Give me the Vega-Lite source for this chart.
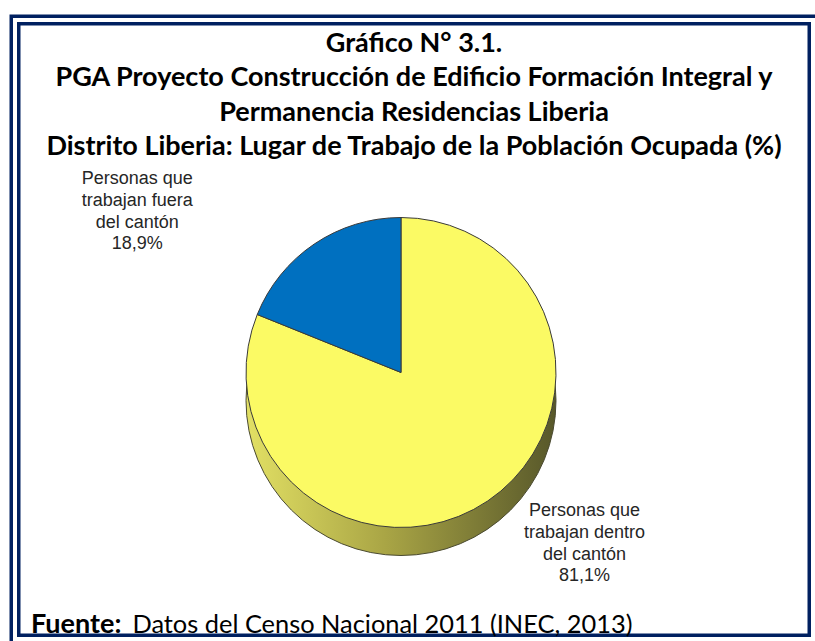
{
  "$schema": "https://vega.github.io/schema/vega-lite/v6.json",
  "width": 815,
  "height": 641,
  "autosize": {"type": "fit", "contains": "padding"},
  "padding": {"left": 13, "top": 18, "right": 0, "bottom": 0},
  "background": "white",
  "view": {"stroke": "#002060", "strokeWidth": 11, "fill": "white"},
  "config": {"view": {"stroke": "#002060", "strokeWidth": 11}},
  "title": {
    "text": ["Gráfico N° 3.1.", "PGA Proyecto Construcción de Edificio Formación Integral y", "Permanencia Residencias Liberia", "Distrito Liberia: Lugar de Trabajo de la Población Ocupada (%)"],
    "font": "Lato",
    "fontWeight": "bold",
    "fontSize": 27,
    "lineHeight": 34.3,
    "color": "black",
    "anchor": "middle",
    "frame": "group",
    "offset": -143
  },
  "datasets": {
    "pie": [
      {"lugar": "Personas que trabajan dentro del cantón", "etiqueta": "Personas que\ntrabajan dentro\ndel cantón\n81,1%", "pct": 81.1, "orden": 1},
      {"lugar": "Personas que trabajan fuera del cantón", "etiqueta": "Personas que\ntrabajan fuera\ndel cantón\n18,9%", "pct": 18.9, "orden": 2}
    ],
    "marco": [{}],
    "fuente": [{"fuente": "Datos del Censo Nacional 2011 (INEC, 2013)"}]
  },
  "layer": [
    {
      "data": {"name": "marco"},
      "mark": {"type": "rect", "fill": null, "stroke": "white", "strokeWidth": 4},
      "encoding": {}
    },
    {
      "data": {"name": "marco"},
      "mark": {
        "type": "arc",
        "outerRadius": 155,
        "xOffset": -13,
        "yOffset": 71,
        "stroke": "#4a4a30",
        "strokeWidth": 1,
        "fill": {"gradient": "linear", "x1": 0, "y1": 0, "x2": 1, "y2": 0,
          "stops": [{"offset": 0, "color": "#E2E064"}, {"offset": 0.45, "color": "#A9A545"}, {"offset": 1, "color": "#57572A"}]}
      },
      "encoding": {}
    },
    {
      "data": {"name": "pie"},
      "mark": {"type": "arc", "outerRadius": 155, "xOffset": -13, "yOffset": 43, "stroke": "#3a3a3a", "strokeWidth": 1},
      "encoding": {
        "theta": {"field": "pct", "type": "quantitative", "stack": true},
        "order": {"field": "orden", "type": "quantitative"},
        "color": {"field": "lugar", "type": "nominal",
          "scale": {"domain": ["Personas que trabajan dentro del cantón", "Personas que trabajan fuera del cantón"], "range": ["#FBFA64", "#0070C0"]},
          "legend": null}
      }
    },
    {
      "data": {"name": "pie"},
      "mark": {"type": "text", "font": "Liberation Sans", "fontSize": 18, "lineHeight": 21.7, "lineBreak": "\n", "color": "#262626", "align": "center", "baseline": "middle", "xOffset": -13, "yOffset": 43},
      "encoding": {
        "theta": {"field": "pct", "type": "quantitative", "stack": true, "scale": {"domain": [0, 100], "range": [-0.318, 5.936]}},
        "radius": {"field": "pct", "type": "quantitative", "scale": {"type": "linear", "zero": false, "domain": [18.9, 81.1], "range": [327, 230]}},
        "order": {"field": "orden", "type": "quantitative"},
        "text": {"field": "etiqueta", "type": "nominal"}
      }
    },
    {
      "data": {"name": "fuente"},
      "mark": {"type": "point", "opacity": 0},
      "encoding": {
        "shape": {"field": "fuente", "type": "nominal",
          "legend": {
            "orient": "none", "legendX": 16, "legendY": 592,
            "title": "Fuente:", "titleOrient": "left",
            "titleFont": "Lato", "titleFontWeight": "bold", "titleFontSize": 27, "titleColor": "black", "titlePadding": 6,
            "labelFont": "Lato", "labelFontSize": 25.4, "labelColor": "black", "labelOffset": -21, "labelLimit": 800,
            "symbolSize": 0, "symbolOpacity": 0, "symbolStrokeWidth": 0, "padding": 0
          }}
      }
    }
  ],
  "resolve": {"scale": {"theta": "independent"}}
}
